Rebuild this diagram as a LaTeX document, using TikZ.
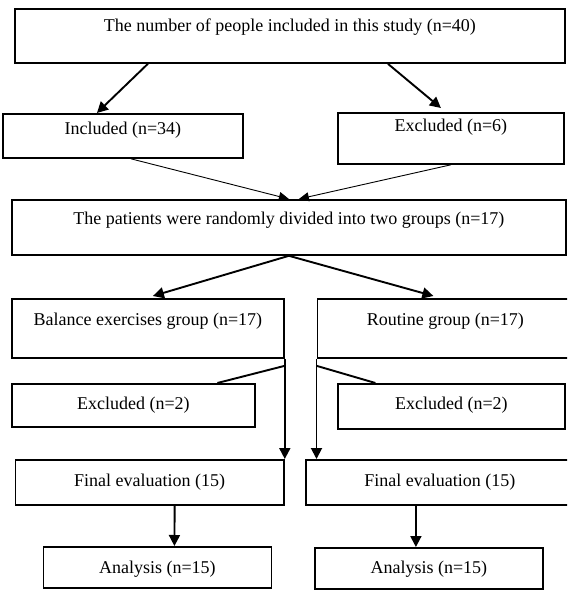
\documentclass[tikz,border=0pt]{standalone}
\usepackage{fontspec}
\setmainfont{Liberation Serif}
\usetikzlibrary{arrows.meta}
\begin{document}
\begin{tikzpicture}[x=1pt,y=-1pt,
  box/.style={draw,line width=1.8pt,anchor=north west,inner sep=0pt,
    font=\fontsize{18}{22}\selectfont},
  thick arrow/.style={line width=1.9pt,-{Triangle[length=11pt,width=11pt]}},
  thin arrow/.style={line width=0.9pt,-{Triangle[length=10pt,width=9pt]}}]
  \clip (0,0) rectangle (567,591);
  \node[box,minimum width=550pt,text height=23pt,text depth=31pt] (study) at (14,8)
    {The number of people included in this study (n=40)};
  \node[box,minimum width=240pt,text height=21pt,text depth=23pt] (incl) at (2,113) {Included (n=34)};
  \node[box,minimum width=226pt,text height=19pt,text depth=32pt] (excl) at (337,112) {Excluded (n=6)};
  \node[box,minimum width=554pt,text height=25pt,text depth=30pt] (rand) at (11,199)
    {The patients were randomly divided into two groups (n=17)};
  \node[box,minimum width=272pt,text height=27pt,text depth=32pt] (bal) at (11,298) {Balance exercises group (n=17)};
  \node[box,minimum width=256pt,text height=27pt,text depth=32pt] (rout) at (316.5,298) {Routine group (n=17)};
  \node[box,minimum width=243pt,text height=26pt,text depth=17pt] (exL) at (11,383) {Excluded (n=2)};
  \node[box,minimum width=227pt,text height=26pt,text depth=19pt] (exR) at (337,383) {Excluded (n=2)};
  \node[box,minimum width=268.5pt,text height=27pt,text depth=18pt] (finL) at (14.5,459) {Final evaluation (15)};
  \node[box,minimum width=268pt,text height=27pt,text depth=18pt] (finR) at (305,459) {Final evaluation (15)};
  \node[box,minimum width=228pt,text height=27pt,text depth=14pt] (anaL) at (42.5,546) {Analysis (n=15)};
  \node[box,minimum width=228pt,text height=26pt,text depth=15pt] (anaR) at (314,547) {Analysis (n=15)};

  \draw[thick arrow] ([xshift=-142pt]study.south) -- ([xshift=-26pt]incl.north);
  \draw[thick arrow] ([xshift=98pt]study.south) -- ([xshift=-10pt,yshift=4pt]excl.north);
  \draw[thin arrow] ([xshift=8pt]incl.south) -- (rand.north);
  \draw[thin arrow] (excl.south) -- ([xshift=10pt]rand.north);
  \draw[thick arrow] (rand.south) -- ([xshift=5pt,yshift=2pt]bal.north);
  \draw[thick arrow] (rand.south) -- ([xshift=-12pt,yshift=2pt]rout.north);
  \draw[thick arrow] (bal.south east) -- (finL.north east);
  \draw[thick arrow] (rout.south west) -- ([xshift=11.5pt]finR.north west);
  \draw[line width=1.9pt] ([yshift=-7pt]bal.south east) -- ([xshift=84pt]exL.north);
  \draw[line width=1.9pt] ([yshift=-7pt]rout.south west) -- ([xshift=-76pt]exR.north);
  \draw[thick arrow] ([xshift=25pt]finL.south) -- ([xshift=17pt]anaL.north);
  \draw[thick arrow] ([xshift=-24pt]finR.south) -- ([xshift=-13pt]anaR.north);
\end{tikzpicture}
\end{document}
